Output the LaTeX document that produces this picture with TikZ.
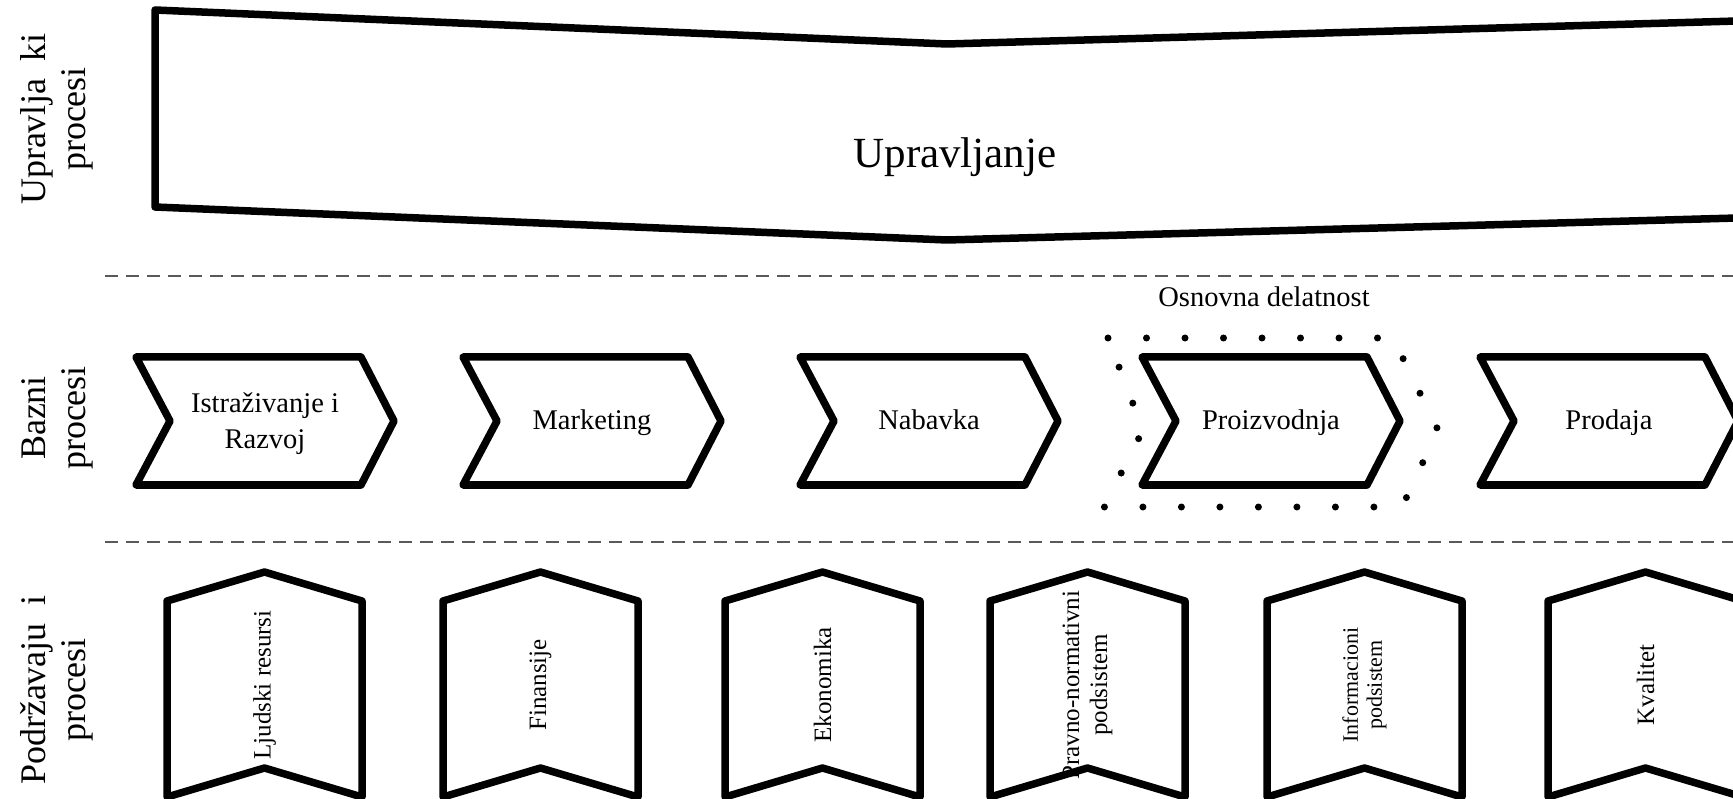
\documentclass[tikz,border=0pt]{standalone}
\usepackage{fontspec}
\setmainfont{Liberation Serif}
\begin{document}
\begin{tikzpicture}[x=1pt, y=-1pt, line join=round,
    shp/.style={draw, line width=7.5pt},
    sep/.style={draw=black!65, line width=2pt, dash pattern=on 13pt off 8pt},
    txt/.style={font=\fontsize{28.5}{36}\selectfont, align=center},
    vtxt/.style={font=\fontsize{25}{28}\selectfont, align=center, rotate=90},
    side/.style={font=\fontsize{36}{40}\selectfont, align=center, rotate=90},
    chevron/.pic={\draw[shp] (0,0) -- (225,0) -- (258,64) -- (225,128) -- (0,128) -- (34,64) -- cycle;},
    banner/.pic={\draw[shp] (0,29) -- (97.5,0) -- (195,29) -- (195,225) -- (97.5,196) -- (0,225) -- cycle;}]
    \clip (0,0) rectangle (1733,799);
    % rows
    \draw[sep] (105,276) -- (1733,276);
    \draw[sep] (105,542) -- (1733,542);
    \node[side] (upk) at (57,119) {Upravlja\ \ ki\\procesi};
    \node[side] (bp) at (57,418) {Bazni\\procesi};
    \node[side] (pp) at (57,690) {Podržavaju\ \ i\\procesi};
    % upravljanje
    \draw[shp] (155,10) -- (947,44) -- (1737,21) -- (1737,218) -- (947,240) -- (155,207) -- cycle;
    \node[font=\fontsize{43}{50}\selectfont, anchor=base] (upr) at (955,168) {Upravljanje};
    % bazni procesi
    \pic at (136,357) {chevron};
    \pic at (463,357) {chevron};
    \pic at (800,357) {chevron};
    \pic at (1142,357) {chevron};
    \pic at (1480,357) {chevron};
    \node[txt] (ir) at (265,424) {Istraživanje i\\Razvoj};
    \node[txt, anchor=base] (mark) at (592,430) {Marketing};
    \node[txt, anchor=base] (nab) at (929,430) {Nabavka};
    \node[txt, anchor=base] (proiz) at (1271,430) {Proizvodnja};
    \node[txt, anchor=base] (prod) at (1609,430) {Prodaja};
    \draw[line width=7pt, line cap=round, dash pattern=on 0pt off 38.5pt] (1108,338) -- (1393,338) -- (1438,430) -- (1402,507) -- (1104,507) -- (1143,430) -- cycle;
    \node[txt, anchor=base] (osn) at (1264,307) {Osnovna delatnost};
    % podrzavajuci procesi
    \node[vtxt] (ljr) at (264.5,685) {Ljudski resursi};
    \node[vtxt] (fin) at (540.5,685) {Finansije};
    \node[vtxt] (eko) at (822.5,685) {Ekonomika};
    \node[vtxt] (prn) at (1087.5,685) {Pravno-normativni\\podsistem};
    \node[vtxt, font=\fontsize{22}{24}\selectfont] (inf) at (1364.5,685) {Informacioni\\podsistem};
    \node[vtxt] (kval) at (1645.5,685) {Kvalitet};
    \pic at (167,572) {banner};
    \pic at (443,572) {banner};
    \pic at (725,572) {banner};
    \pic at (990,572) {banner};
    \pic at (1267,572) {banner};
    \pic at (1548,572) {banner};
\end{tikzpicture}
\end{document}
